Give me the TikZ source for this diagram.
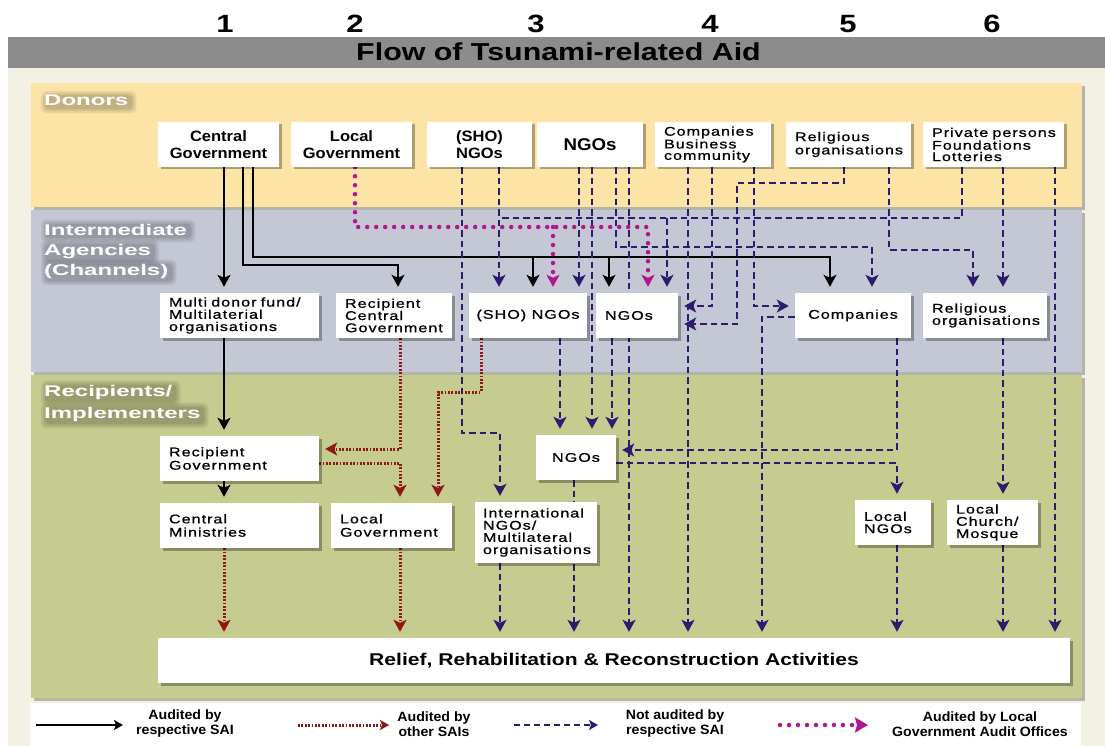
\documentclass[tikz,border=0pt]{standalone}
\usepackage{fontspec}
\setmainfont{Liberation Sans}
\newfontfamily\famTitle[FakeStretch=1.24]{Liberation Sans}
\newfontfamily\famBand[FakeStretch=1.55]{Liberation Sans}
\newfontfamily\famBold[FakeStretch=1.1]{Liberation Sans}
\newfontfamily\famSmall[FakeStretch=1.28,LetterSpace=8,FakeBold=0.9]{Liberation Sans}
\newfontfamily\famLeg[FakeStretch=1.05]{Liberation Sans}
\usetikzlibrary{arrows.meta,shadows}
\pgfdeclarelayer{bg}
\pgfdeclarelayer{lines}
\pgfsetlayers{bg,lines,main}

\definecolor{creamcol}{RGB}{243,241,228}
\definecolor{titlecol}{RGB}{140,140,140}
\definecolor{donorcol}{RGB}{251,228,166}
\definecolor{intercol}{RGB}{196,200,212}
\definecolor{recipcol}{RGB}{198,203,143}
\definecolor{dashcol}{RGB}{45,28,110}
\definecolor{redcol}{RGB}{140,24,24}
\definecolor{magcol}{RGB}{178,22,140}

\newcommand\fntTitle{\famTitle\bfseries\fontsize{24.5}{28}\selectfont}
\newcommand\fntNum{\famTitle\bfseries\fontsize{25}{28}\selectfont}
\newcommand\fntRelief{\famTitle\bfseries\fontsize{17}{20}\selectfont}
\newcommand\fntBand{\famBand\bfseries\fontsize{15.5}{19}\selectfont}
\newcommand\fntBig{\famBold\bfseries\fontsize{15}{17.5}\selectfont}
\newcommand\fntNGO{\famBold\bfseries\fontsize{17}{20}\selectfont}
\newcommand\fntSm{\famSmall\fontsize{12.6}{12.2}\selectfont}
\newcommand\fntSmT{\famSmall\fontsize{12.6}{11.4}\selectfont}
\newcommand\fntSmW{\famSmall\fontsize{12.6}{13.3}\selectfont}
\newcommand\fntLeg{\famLeg\bfseries\fontsize{13.5}{15}\selectfont}

\newcommand\lblshadow[1]{%
  \fill[black, opacity=0.07, rounded corners=6pt] ([shift={(-2,-3)}]#1.north west) rectangle ([shift={(7,6)}]#1.south east);
  \fill[black, opacity=0.08, rounded corners=5pt] ([shift={(0,-1)}]#1.north west) rectangle ([shift={(5,4)}]#1.south east);
  \fill[black, opacity=0.09, rounded corners=4pt] ([shift={(2,1)}]#1.north west) rectangle ([shift={(3,2)}]#1.south east);}

\tikzset{
  box/.style={fill=white, inner sep=0pt, minimum height=45pt,
    drop shadow={shadow xshift=2.5pt, shadow yshift=-2.5pt, opacity=0.3, fill=black}},
  boxL/.style={box, align=left, font=\fntSm, inner xsep=9pt, text width=#1},
  boxC/.style={box, align=center},
  bandtx/.style={font=\fntBand, text=white, inner sep=1pt, anchor=base west},
  tip/.style={-{Stealth[length=12pt,width=13pt,inset=3pt]}},
  conn/.style={shorten >=6pt, tip},
  blk/.style={conn, draw=black, line width=2pt},
  dsh/.style={conn, draw=dashcol, line width=1.8pt, dash pattern=on 6.5pt off 4pt},
  dshline/.style={draw=dashcol, line width=1.8pt, dash pattern=on 6.5pt off 4pt},
  redarr/.style={conn, draw=redcol, line width=3pt, dash pattern=on 1.8pt off 1.6pt},
  mag/.style={conn, draw=magcol, line width=4.5pt, line cap=round, dash pattern=on 0pt off 9pt},
  legtip/.style={-{Stealth[length=9pt,width=10pt,inset=2pt]}},
  legtext/.style={font=\fntLeg, align=center, inner sep=0pt},
}

\begin{document}
\begin{tikzpicture}[x=1pt,y=-1pt]
\useasboundingbox (0,0) rectangle (1105,746);

\foreach \l in {224,243,253,355,398,400,438,462,481,499,500,533,553,560,574,579,592,609,612,616,629,648,667,688,712,737,754,762,830,844,872,889,897,962,973,1003,1055}
  \coordinate (L\l) at (\l,0);
\foreach \h in {183,218,227,247,250,257,265,306,317,324,392,433,449,450,463}
  \coordinate (H\h) at (0,\h);

\begin{pgfonlayer}{bg}
  \fill[white] (0,0) rectangle (1105,746);
  \fill[creamcol] (8,68) rectangle (1105,746);
  \fill[titlecol] (8,37) rectangle (1105,68);
  \path[fill=donorcol, drop shadow={shadow xshift=3pt, shadow yshift=-3pt, opacity=0.25, fill=black}] (31,83) rectangle (1082,207);
  \path[fill=intercol, drop shadow={shadow xshift=3pt, shadow yshift=-3pt, opacity=0.25, fill=black}] (31,210) rectangle (1082,372);
  \path[fill=recipcol, drop shadow={shadow xshift=3pt, shadow yshift=-3pt, opacity=0.25, fill=black}] (31,375) rectangle (1082,698);
  \fill[white] (30,703) rectangle (1081,746);
\end{pgfonlayer}

% numbers and title
\node[font=\fntNum, anchor=base, inner sep=0pt] (n1) at (225,33) {1};
\node[font=\fntNum, anchor=base, inner sep=0pt] (n2) at (355,33) {2};
\node[font=\fntNum, anchor=base, inner sep=0pt] (n3) at (536,33) {3};
\node[font=\fntNum, anchor=base, inner sep=0pt] (n4) at (710,33) {4};
\node[font=\fntNum, anchor=base, inner sep=0pt] (n5) at (848,33) {5};
\node[font=\fntNum, anchor=base, inner sep=0pt] (n6) at (992,33) {6};
\node[font=\fntTitle, anchor=base, inner sep=0pt] (title) at (558.5,61) {Flow of Tsunami-related Aid};

% band labels
\node[bandtx] (lDon) at (43,106) {Donors};
\node[bandtx] (lInt1) at (43,235) {Intermediate};
\node[bandtx] (lInt2) at (43,255) {Agencies};
\node[bandtx] (lInt3) at (43,275) {(Channels)};
\node[bandtx] (lRec1) at (43,396) {Recipients/};
\node[bandtx] (lRec2) at (43,418) {Implementers};

% donors
\node[boxC, font=\fntBig, minimum width=121pt] (dCG) at (218.5,144.5) {Central\\Government};
\node[boxC, font=\fntBig, minimum width=121pt] (dLG) at (351.5,144.5) {Local\\Government};
\node[boxC, font=\fntBig, minimum width=105pt] (dSHO) at (479.5,144.5) {(SHO)\\NGOs};
\node[boxC, font=\fntNGO, minimum width=106pt] (dNGO) at (590,144.5) {NGOs};
\node[boxL=98pt, font=\fntSmT] (dCom) at (713,144.5) {Companies\\Business\\community};
\node[boxL=107pt, font=\fntSmW] (dRel) at (848.5,144.5) {Religious\\organisations};
\node[boxL=123pt, font=\fntSmT] (dPri) at (993.5,144.5) {\mbox{Private persons}\\Foundations\\Lotteries};

% intermediate
\node[boxL=141pt] (iMD) at (239.5,315.5) {\mbox{Multi donor fund/}\\Multilaterial\\organisations};
\node[boxL=98pt] (iRCG) at (394,315.5) {Recipient\\Central\\Government};
\node[boxC, font=\fntSm, minimum width=118pt] (iSHO) at (528,315.5) {\mbox{(SHO) NGOs}};
\node[boxL=64pt] (iNGO) at (637,315.5) {NGOs};
\node[boxC, font=\fntSm, minimum width=116pt] (iCom) at (853,315.5) {Companies};
\node[boxL=106pt] (iRel) at (985,315.5) {Religious\\organisations};

% recipients
\node[boxL=141pt, font=\fntSmW] (rRG) at (239.5,458.5) {Recipient\\Government};
\node[boxC, font=\fntSm, minimum width=80pt] (rNGO) at (576,457.5) {NGOs};
\node[boxL=141pt, font=\fntSmW] (rCM) at (239.5,525.5) {Central\\Ministries};
\node[boxL=103pt, font=\fntSmW] (rLG) at (391.5,525.5) {Local\\Government};
\node[boxL=106pt, minimum height=61pt, inner xsep=8pt] (rINT) at (536,532.5) {International\\NGOs/\\Multilateral\\organisations};
\node[boxL=58pt] (rLN) at (893,522.5) {Local\\NGOs};
\node[boxL=73pt] (rLC) at (992.5,522.5) {Local\\Church/\\Mosque};

\node[boxC, font=\fntRelief, minimum width=912pt] (relief) at (614,660.5) {Relief, Rehabilitation \& Reconstruction Activities};

\begin{pgfonlayer}{lines}
% soft shadows behind band labels
\lblshadow{lDon}
\lblshadow{lInt1}
\lblshadow{lInt2}
\lblshadow{lInt3}
\lblshadow{lRec1}
\lblshadow{lRec2}

% black: audited by respective SAI
\draw[blk] (dCG.south -| L224) -- (iMD.north -| L224);
\draw[blk] (dCG.south -| L243) |- (H265 -| L398) -- (iRCG.north -| L398);
\draw[blk] (dCG.south -| L253) |- (H257 -| L830) -- (iCom.north -| L830);
\draw[blk] (H257 -| L533) -- (iSHO.north -| L533);
\draw[blk] (H257 -| L609) -- (iNGO.north -| L609);
\draw[blk] (iMD.south -| L224) -- (rRG.north -| L224);
\draw[blk] (rRG.south -| L224) -- (rCM.north -| L224);

% red: audited by other SAIs
\draw[redarr] (iRCG.south -| L400) |- (H449 -| rRG.east);
\draw[redarr] (rRG.east |- H463) -| (rLG.north -| L400);
\draw[redarr] (iSHO.south -| L481) |- (H392 -| L438) -- (rLG.north -| L438);
\draw[redarr] (rCM.south -| L224) -- (relief.north -| L224);
\draw[redarr] (rLG.south -| L400) -- (relief.north -| L400);

% dashed: not audited
\draw[dsh] (dSHO.south -| L462) |- (H433 -| L500) -- (rINT.north -| L500);
\draw[dsh] (dSHO.south -| L499) -- (iSHO.north -| L499);
\draw[dshline] (dPri.south -| L962) |- (H218 -| L499);
\draw[dsh] (H218 -| L667) -- (iNGO.north -| L667);
\draw[dsh] (dNGO.south -| L579) -- (iSHO.north -| L579);
\draw[dsh] (dNGO.south -| L592) -- (rNGO.north -| L592);
\draw[dsh] (dNGO.south -| L616) |- (H247 -| L872) -- (iCom.north -| L872);
\draw[dsh] (dNGO.south -| L629) -- (relief.north -| L629);
\draw[dsh] (dCom.south -| L688) -- (relief.north -| L688);
\draw[dsh] (dCom.south -| L712) |- (H306 -| iNGO.east);
\draw[dsh] (dRel.south -| L844) |- (H183 -| L737) |- (H324 -| iNGO.east);
\draw[dsh] (dCom.south -| L754) |- (H306 -| iCom.west);
\draw[dsh] (iCom.west |- H317) -| (relief.north -| L762);
\draw[dsh] (dRel.south -| L889) |- (H250 -| L973) -- (iRel.north -| L973);
\draw[dsh] (dPri.south -| L1003) -- (iRel.north -| L1003);
\draw[dsh] (dPri.south -| L1055) -- (relief.north -| L1055);
\draw[dsh] (iSHO.south -| L560) -- (rNGO.north -| L560);
\draw[dsh] (iNGO.south -| L612) -- (rNGO.north -| L612);
\draw[dsh] (iCom.south -| L897) |- (H450 -| rNGO.east);
\draw[dsh] (rNGO.east |- H463) -| (rLN.north -| L897);
\draw[dsh] (rNGO.south -| L574) -- (relief.north -| L574);
\draw[dsh] (rINT.south -| L500) -- (relief.north -| L500);
\draw[dsh] (rLN.south -| L897) -- (relief.north -| L897);
\draw[dsh] (iRel.south -| L1003) -- (rLC.north -| L1003);
\draw[dsh] (rLC.south -| L1003) -- (relief.north -| L1003);

% magenta: audited by local government audit offices
\draw[mag] (dLG.south -| L355) |- (H227 -| L648) -- (iNGO.north -| L648);
\draw[mag] (H227 -| L553) -- (iSHO.north -| L553);
\end{pgfonlayer}

% legend
\coordinate (lg1a) at (36,725);  \coordinate (lg1b) at (123,725);
\coordinate (lg2a) at (298,725); \coordinate (lg2b) at (389,725);
\coordinate (lg3a) at (514,725); \coordinate (lg3b) at (598,725);
\coordinate (lg4a) at (780,725); \coordinate (lg4b) at (868,725);
\draw[draw=black, line width=1.8pt, legtip] (lg1a) -- (lg1b);
\draw[draw=redcol, line width=3pt, dash pattern=on 1.8pt off 1.6pt, legtip] (lg2a) -- (lg2b);
\draw[draw=dashcol, line width=1.8pt, dash pattern=on 6pt off 4pt, legtip] (lg3a) -- (lg3b);
\draw[draw=magcol, line width=4.5pt, line cap=round, dash pattern=on 0pt off 9pt, -{Stealth[length=13pt,width=15pt,inset=2pt]}] (lg4a) -- (lg4b);
\node[legtext] (lt1) at (185,724) {Audited by\\respective SAI};
\node[legtext] (lt2) at (434,724) {Audited by\\other SAIs};
\node[legtext] (lt3) at (675,724) {Not audited by\\respective SAI};
\node[legtext] (lt4) at (980,724) {Audited by Local\\Government Audit Offices};
\end{tikzpicture}
\end{document}
